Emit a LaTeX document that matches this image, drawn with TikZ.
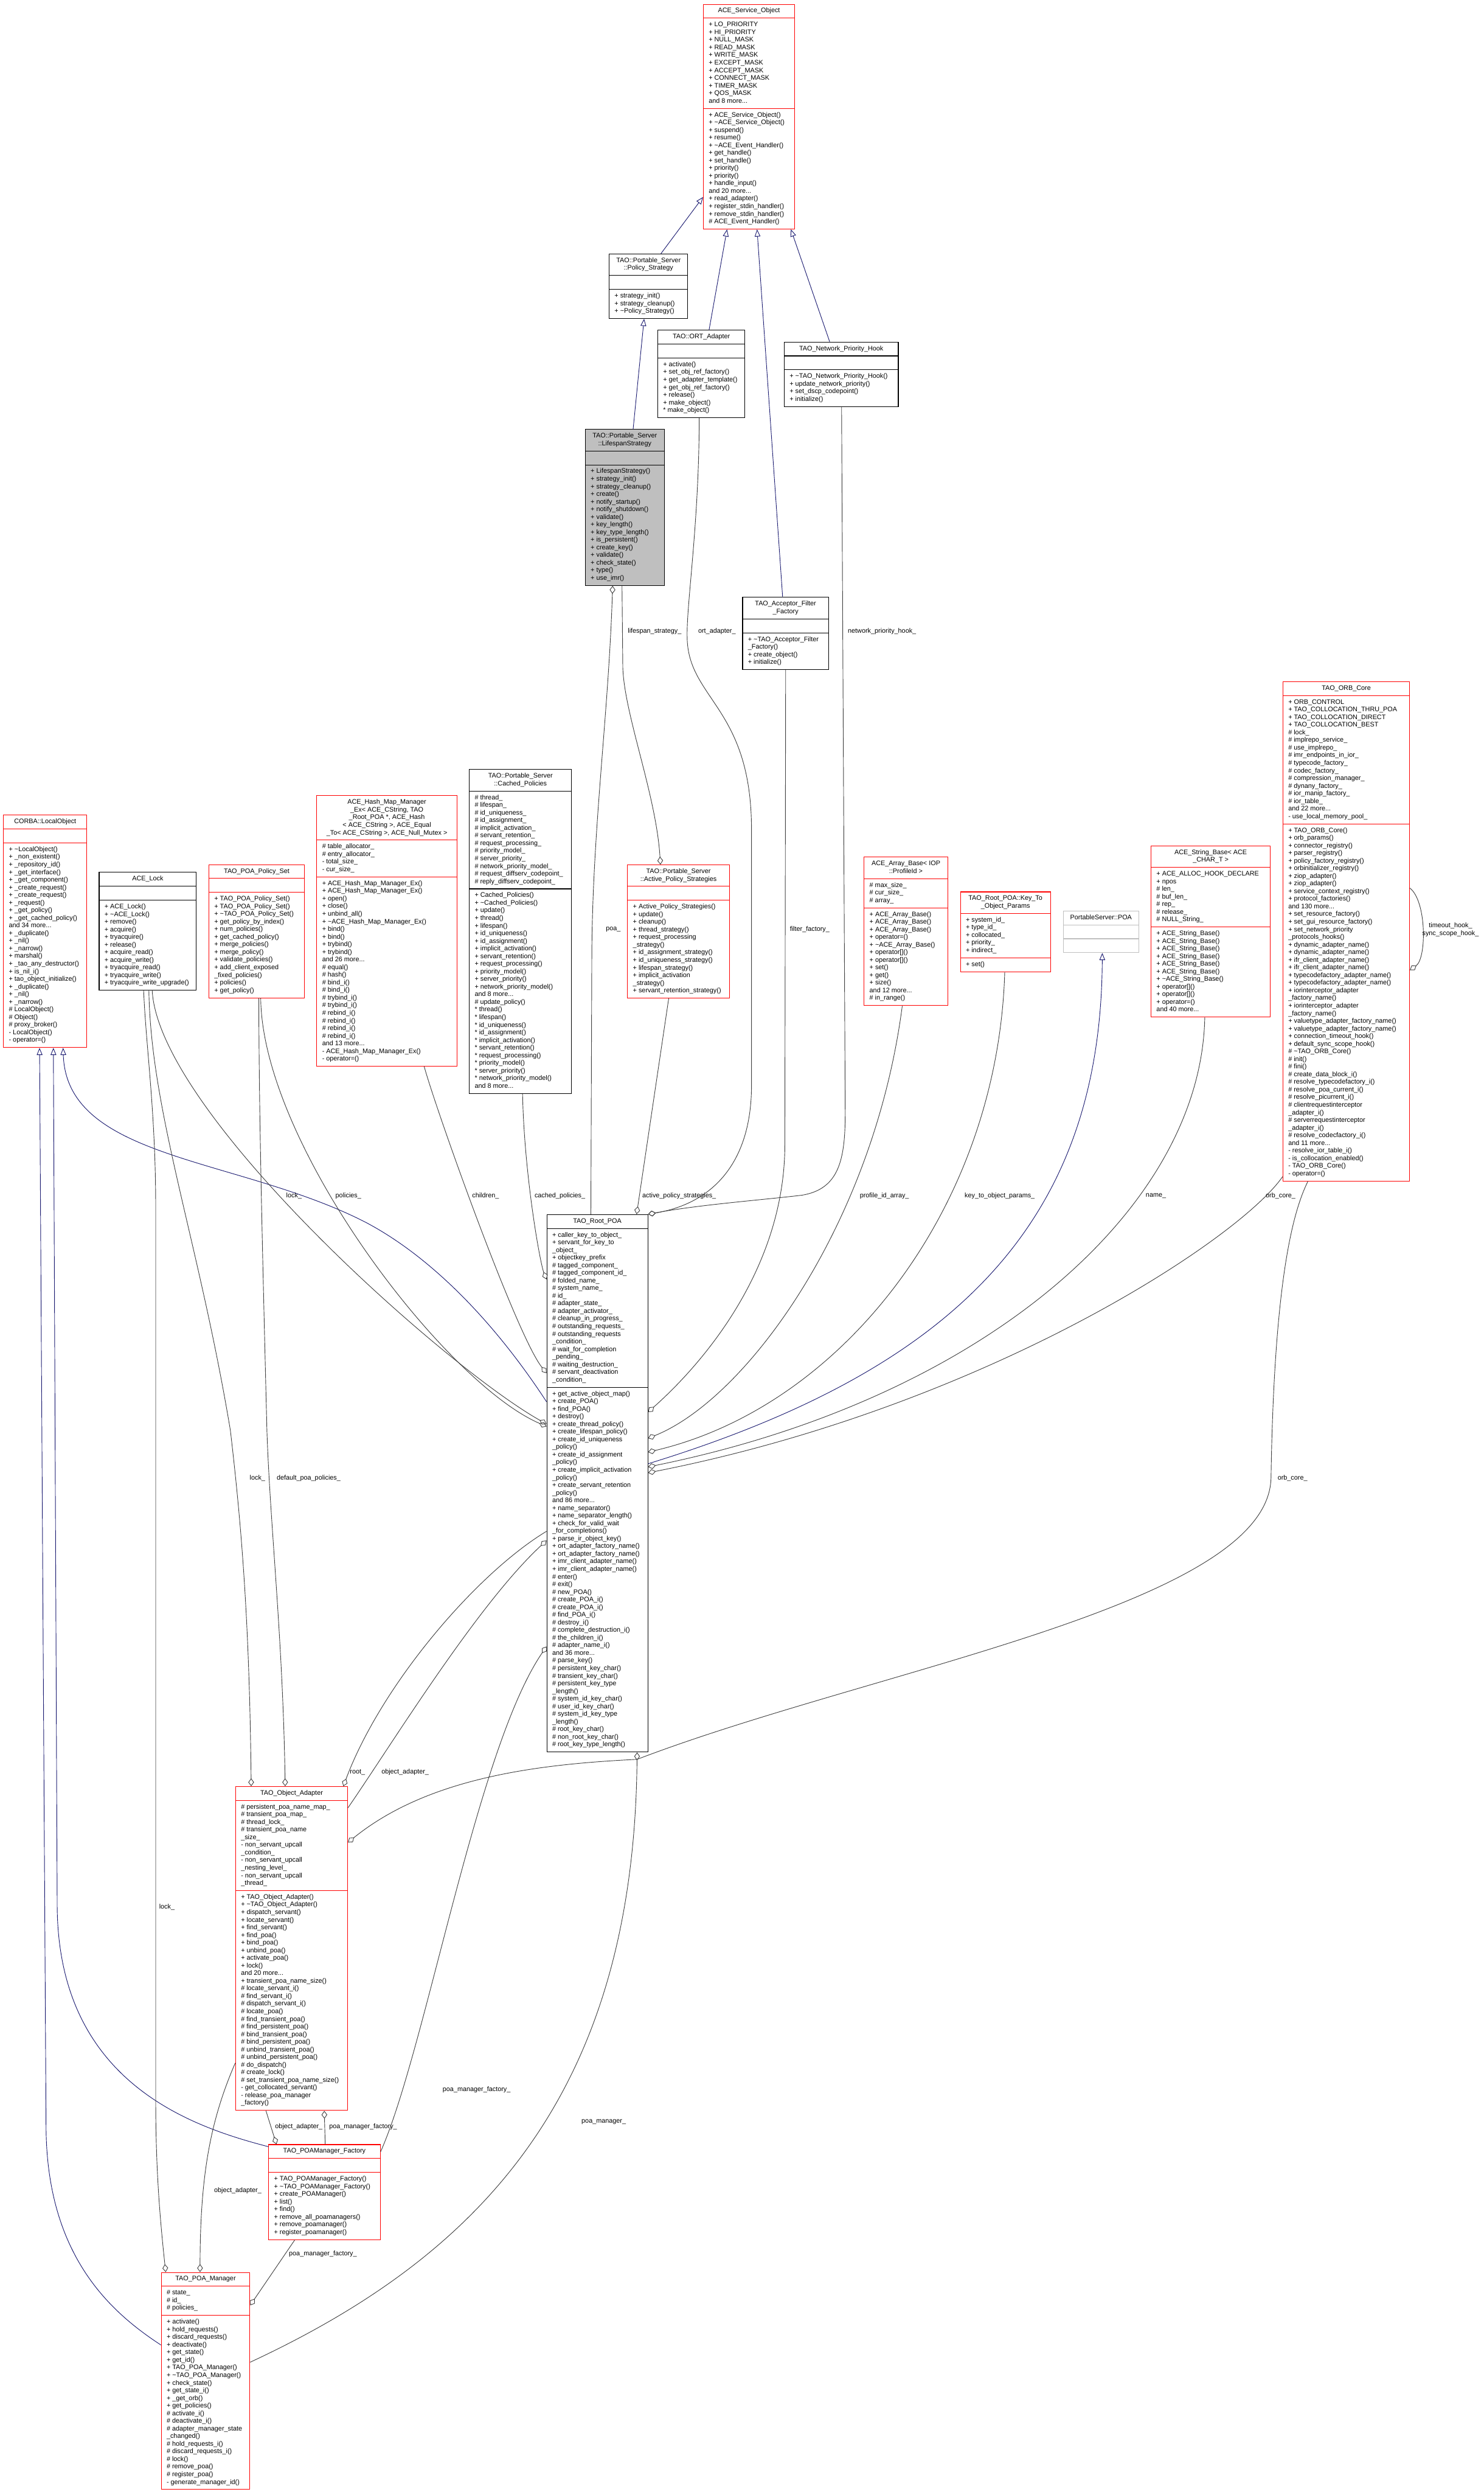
\documentclass[tikz,border=0pt]{standalone}
\usepackage{fontspec}
\setmainfont{Liberation Sans}
\usetikzlibrary{shapes.multipart,arrows.meta,calc}
\setlength\parindent{0pt}
\definecolor{egrey}{HTML}{404040}
\definecolor{iblue}{HTML}{191970}
\definecolor{gseven}{HTML}{BFBFBF}
\newcommand\nfont{\fontsize{4.15}{4.8}\selectfont}
\newcommand\tlde{\textasciitilde}
\newcommand\umlclass[8]{%
 \node[#2] (#1) at (#3,#4) {\makebox[\dimexpr#5pt-6.8pt\relax][c]{\begin{tabular}{@{}c@{}}#6\end{tabular}}\nodepart{two}\makebox[\dimexpr#5pt-6.8pt\relax][l]{\begin{tabular}{@{}l@{}}#7\end{tabular}}\nodepart{three}\makebox[\dimexpr#5pt-6.8pt\relax][l]{\begin{tabular}{@{}l@{}}#8\end{tabular}}};}
\tikzset{
  cls/.style={rectangle split, rectangle split parts=3, draw=black, line width=0.4pt, fill=white, inner xsep=3.4pt, inner ysep=1.77pt, anchor=north west, font=\nfont},
  redcls/.style={cls, draw=red},
  greycls/.style={cls, draw=gseven},
  inh/.style={draw=iblue, line width=0.35pt, arrows={-Triangle[open,length=4.5pt,width=3.6pt]}},
  mem/.style={draw=egrey, line width=0.35pt, arrows={Diamond[open,length=5pt,width=3.6pt]-}},
  lbl/.style={font=\nfont, inner sep=0pt, text=black},
}
\begin{document}
\begin{tikzpicture}[x=1pt,y=-1pt]
\fill[white] (0,0) rectangle (934,1568);
\useasboundingbox (0,0) rectangle (934,1568);

% ---------------- classes ----------------
\umlclass{aso}{redcls}{442.5}{2.5}{57.5}{ACE\_Service\_Object}
{+ LO\_PRIORITY\\+ HI\_PRIORITY\\+ NULL\_MASK\\+ READ\_MASK\\+ WRITE\_MASK\\+ EXCEPT\_MASK\\+ ACCEPT\_MASK\\+ CONNECT\_MASK\\+ TIMER\_MASK\\+ QOS\_MASK\\and 8 more...}
{+ ACE\_Service\_Object()\\+ \tlde ACE\_Service\_Object()\\+ suspend()\\+ resume()\\+ \tlde ACE\_Event\_Handler()\\+ get\_handle()\\+ set\_handle()\\+ priority()\\+ priority()\\+ handle\_input()\\and 20 more...\\+ read\_adapter()\\+ register\_stdin\_handler()\\+ remove\_stdin\_handler()\\\# ACE\_Event\_Handler()}

\umlclass{ps}{cls}{383.2}{159.6}{49.5}{TAO::Portable\_Server\\::Policy\_Strategy}{\mbox{}}
{+ strategy\_init()\\+ strategy\_cleanup()\\+ \tlde Policy\_Strategy()}

\umlclass{ort}{cls}{413.8}{207.6}{54.9}{TAO::ORT\_Adapter}{\mbox{}}
{+ activate()\\+ set\_obj\_ref\_factory()\\+ get\_adapter\_template()\\+ get\_obj\_ref\_factory()\\+ release()\\+ make\_object()\\{}* make\_object()}

\umlclass{nph}{cls}{493.4}{215}{71.8}{TAO\_Network\_Priority\_Hook}{\mbox{}}
{+ \tlde TAO\_Network\_Priority\_Hook()\\+ update\_network\_priority()\\+ set\_dscp\_codepoint()\\+ initialize()}

\umlclass{ls}{cls, fill=gseven}{368.2}{270}{49.7}{TAO::Portable\_Server\\::LifespanStrategy}{\mbox{}}
{+ LifespanStrategy()\\+ strategy\_init()\\+ strategy\_cleanup()\\+ create()\\+ notify\_startup()\\+ notify\_shutdown()\\+ validate()\\+ key\_length()\\+ key\_type\_length()\\+ is\_persistent()\\+ create\_key()\\+ validate()\\+ check\_state()\\+ type()\\+ use\_imr()}

\umlclass{aff}{cls}{467.2}{375.7}{54.1}{TAO\_Acceptor\_Filter\\\_Factory}{\mbox{}}
{+ \tlde TAO\_Acceptor\_Filter\\\_Factory()\\+ create\_object()\\+ initialize()}

\umlclass{cp}{cls}{295.2}{484}{64.4}{TAO::Portable\_Server\\::Cached\_Policies}
{\# thread\_\\\# lifespan\_\\\# id\_uniqueness\_\\\# id\_assignment\_\\\# implicit\_activation\_\\\# servant\_retention\_\\\# request\_processing\_\\\# priority\_model\_\\\# server\_priority\_\\\# network\_priority\_model\_\\\# request\_diffserv\_codepoint\_\\\# reply\_diffserv\_codepoint\_}
{+ Cached\_Policies()\\+ \tlde Cached\_Policies()\\+ update()\\+ thread()\\+ lifespan()\\+ id\_uniqueness()\\+ id\_assignment()\\+ implicit\_activation()\\+ servant\_retention()\\+ request\_processing()\\+ priority\_model()\\+ server\_priority()\\+ network\_priority\_model()\\and 8 more...\\\# update\_policy()\\{}* thread()\\{}* lifespan()\\{}* id\_uniqueness()\\{}* id\_assignment()\\{}* implicit\_activation()\\{}* servant\_retention()\\{}* request\_processing()\\{}* priority\_model()\\{}* server\_priority()\\{}* network\_priority\_model()\\and 8 more...}

\umlclass{hm}{redcls}{199.2}{500.5}{88.2}{ACE\_Hash\_Map\_Manager\\\_Ex< ACE\_CString, TAO\\\_Root\_POA *, ACE\_Hash\\< ACE\_CString >, ACE\_Equal\\\_To< ACE\_CString >, ACE\_Null\_Mutex >}
{\# table\_allocator\_\\\# entry\_allocator\_\\- total\_size\_\\- cur\_size\_}
{+ ACE\_Hash\_Map\_Manager\_Ex()\\+ ACE\_Hash\_Map\_Manager\_Ex()\\+ open()\\+ close()\\+ unbind\_all()\\+ \tlde ACE\_Hash\_Map\_Manager\_Ex()\\+ bind()\\+ bind()\\+ trybind()\\+ trybind()\\and 26 more...\\\# equal()\\\# hash()\\\# bind\_i()\\\# bind\_i()\\\# trybind\_i()\\\# trybind\_i()\\\# rebind\_i()\\\# rebind\_i()\\\# rebind\_i()\\\# rebind\_i()\\and 13 more...\\- ACE\_Hash\_Map\_Manager\_Ex()\\- operator=()}

\umlclass{aps}{redcls}{394.8}{544}{64.1}{TAO::Portable\_Server\\::Active\_Policy\_Strategies}{\mbox{}}
{+ Active\_Policy\_Strategies()\\+ update()\\+ cleanup()\\+ thread\_strategy()\\+ request\_processing\\\_strategy()\\+ id\_assignment\_strategy()\\+ id\_uniqueness\_strategy()\\+ lifespan\_strategy()\\+ implicit\_activation\\\_strategy()\\+ servant\_retention\_strategy()}

\umlclass{arr}{redcls}{543.7}{539.1}{52.6}{ACE\_Array\_Base< IOP\\::ProfileId >}
{\# max\_size\_\\\# cur\_size\_\\\# array\_}
{+ ACE\_Array\_Base()\\+ ACE\_Array\_Base()\\+ ACE\_Array\_Base()\\+ operator=()\\+ \tlde ACE\_Array\_Base()\\+ operator[]()\\+ operator[]()\\+ set()\\+ get()\\+ size()\\and 12 more...\\\# in\_range()}

\umlclass{kto}{redcls}{604.3}{561}{56.7}{TAO\_Root\_POA::Key\_To\\\_Object\_Params}
{+ system\_id\_\\+ type\_id\_\\+ collocated\_\\+ priority\_\\+ indirect\_}
{+ set()}

\umlclass{poa}{greycls}{669.1}{573}{47.4}{PortableServer::POA}{\mbox{}}{\mbox{}}

\umlclass{sb}{redcls}{724.3}{532}{75.1}{ACE\_String\_Base< ACE\\\_CHAR\_T >}
{+ ACE\_ALLOC\_HOOK\_DECLARE\\+ npos\\\# len\_\\\# buf\_len\_\\\# rep\_\\\# release\_\\\# NULL\_String\_}
{+ ACE\_String\_Base()\\+ ACE\_String\_Base()\\+ ACE\_String\_Base()\\+ ACE\_String\_Base()\\+ ACE\_String\_Base()\\+ ACE\_String\_Base()\\+ \tlde ACE\_String\_Base()\\+ operator[]()\\+ operator[]()\\+ operator=()\\and 40 more...}

\umlclass{orb}{redcls}{807.3}{428.7}{79.7}{TAO\_ORB\_Core}
{+ ORB\_CONTROL\\+ TAO\_COLLOCATION\_THRU\_POA\\+ TAO\_COLLOCATION\_DIRECT\\+ TAO\_COLLOCATION\_BEST\\\# lock\_\\\# implrepo\_service\_\\\# use\_implrepo\_\\\# imr\_endpoints\_in\_ior\_\\\# typecode\_factory\_\\\# codec\_factory\_\\\# compression\_manager\_\\\# dynany\_factory\_\\\# ior\_manip\_factory\_\\\# ior\_table\_\\and 22 more...\\- use\_local\_memory\_pool\_}
{+ TAO\_ORB\_Core()\\+ orb\_params()\\+ connector\_registry()\\+ parser\_registry()\\+ policy\_factory\_registry()\\+ orbinitializer\_registry()\\+ ziop\_adapter()\\+ ziop\_adapter()\\+ service\_context\_registry()\\+ protocol\_factories()\\and 130 more...\\+ set\_resource\_factory()\\+ set\_gui\_resource\_factory()\\+ set\_network\_priority\\\_protocols\_hooks()\\+ dynamic\_adapter\_name()\\+ dynamic\_adapter\_name()\\+ ifr\_client\_adapter\_name()\\+ ifr\_client\_adapter\_name()\\+ typecodefactory\_adapter\_name()\\+ typecodefactory\_adapter\_name()\\+ iorinterceptor\_adapter\\\_factory\_name()\\+ iorinterceptor\_adapter\\\_factory\_name()\\+ valuetype\_adapter\_factory\_name()\\+ valuetype\_adapter\_factory\_name()\\+ connection\_timeout\_hook()\\+ default\_sync\_scope\_hook()\\\# \tlde TAO\_ORB\_Core()\\\# init()\\\# fini()\\\# create\_data\_block\_i()\\\# resolve\_typecodefactory\_i()\\\# resolve\_poa\_current\_i()\\\# resolve\_picurrent\_i()\\\# clientrequestinterceptor\\\_adapter\_i()\\\# serverrequestinterceptor\\\_adapter\_i()\\\# resolve\_codecfactory\_i()\\and 11 more...\\- resolve\_ior\_table\_i()\\- is\_collocation\_enabled()\\- TAO\_ORB\_Core()\\- operator=()}

\umlclass{lo}{redcls}{2}{512.7}{52.5}{CORBA::LocalObject}{\mbox{}}
{+ \tlde LocalObject()\\+ \_non\_existent()\\+ \_repository\_id()\\+ \_get\_interface()\\+ \_get\_component()\\+ \_create\_request()\\+ \_create\_request()\\+ \_request()\\+ \_get\_policy()\\+ \_get\_cached\_policy()\\and 34 more...\\+ \_duplicate()\\+ \_nil()\\+ \_narrow()\\+ marshal()\\+ \_tao\_any\_destructor()\\+ is\_nil\_i()\\+ tao\_object\_initialize()\\+ \_duplicate()\\+ \_nil()\\+ \_narrow()\\\# LocalObject()\\\# Object()\\\# proxy\_broker()\\- LocalObject()\\- operator=()}

\umlclass{lock}{cls}{62.2}{548.7}{61.2}{ACE\_Lock}{\mbox{}}
{+ ACE\_Lock()\\+ \tlde ACE\_Lock()\\+ remove()\\+ acquire()\\+ tryacquire()\\+ release()\\+ acquire\_read()\\+ acquire\_write()\\+ tryacquire\_read()\\+ tryacquire\_write()\\+ tryacquire\_write\_upgrade()}

\umlclass{pps}{redcls}{131.3}{543.8}{60.1}{TAO\_POA\_Policy\_Set}{\mbox{}}
{+ TAO\_POA\_Policy\_Set()\\+ TAO\_POA\_Policy\_Set()\\+ \tlde TAO\_POA\_Policy\_Set()\\+ get\_policy\_by\_index()\\+ num\_policies()\\+ get\_cached\_policy()\\+ merge\_policies()\\+ merge\_policy()\\+ validate\_policies()\\+ add\_client\_exposed\\\_fixed\_policies()\\+ policies()\\+ get\_policy()}

\umlclass{rp}{cls}{344}{764}{63.5}{TAO\_Root\_POA}
{+ caller\_key\_to\_object\_\\+ servant\_for\_key\_to\\\_object\_\\+ objectkey\_prefix\\\# tagged\_component\_\\\# tagged\_component\_id\_\\\# folded\_name\_\\\# system\_name\_\\\# id\_\\\# adapter\_state\_\\\# adapter\_activator\_\\\# cleanup\_in\_progress\_\\\# outstanding\_requests\_\\\# outstanding\_requests\\\_condition\_\\\# wait\_for\_completion\\\_pending\_\\\# waiting\_destruction\_\\\# servant\_deactivation\\\_condition\_}
{+ get\_active\_object\_map()\\+ create\_POA()\\+ find\_POA()\\+ destroy()\\+ create\_thread\_policy()\\+ create\_lifespan\_policy()\\+ create\_id\_uniqueness\\\_policy()\\+ create\_id\_assignment\\\_policy()\\+ create\_implicit\_activation\\\_policy()\\+ create\_servant\_retention\\\_policy()\\and 86 more...\\+ name\_separator()\\+ name\_separator\_length()\\+ check\_for\_valid\_wait\\\_for\_completions()\\+ parse\_ir\_object\_key()\\+ ort\_adapter\_factory\_name()\\+ ort\_adapter\_factory\_name()\\+ imr\_client\_adapter\_name()\\+ imr\_client\_adapter\_name()\\\# enter()\\\# exit()\\\# new\_POA()\\\# create\_POA\_i()\\\# create\_POA\_i()\\\# find\_POA\_i()\\\# destroy\_i()\\\# complete\_destruction\_i()\\\# the\_children\_i()\\\# adapter\_name\_i()\\and 36 more...\\\# parse\_key()\\\# persistent\_key\_char()\\\# transient\_key\_char()\\\# persistent\_key\_type\\\_length()\\\# system\_id\_key\_char()\\\# user\_id\_key\_char()\\\# system\_id\_key\_type\\\_length()\\\# root\_key\_char()\\\# non\_root\_key\_char()\\\# root\_key\_type\_length()}

\umlclass{oa}{redcls}{148.1}{1123.9}{70.5}{TAO\_Object\_Adapter}
{\# persistent\_poa\_name\_map\_\\\# transient\_poa\_map\_\\\# thread\_lock\_\\\# transient\_poa\_name\\\_size\_\\- non\_servant\_upcall\\\_condition\_\\- non\_servant\_upcall\\\_nesting\_level\_\\- non\_servant\_upcall\\\_thread\_}
{+ TAO\_Object\_Adapter()\\+ \tlde TAO\_Object\_Adapter()\\+ dispatch\_servant()\\+ locate\_servant()\\+ find\_servant()\\+ find\_poa()\\+ bind\_poa()\\+ unbind\_poa()\\+ activate\_poa()\\+ lock()\\and 20 more...\\+ transient\_poa\_name\_size()\\\# locate\_servant\_i()\\\# find\_servant\_i()\\\# dispatch\_servant\_i()\\\# locate\_poa()\\\# find\_transient\_poa()\\\# find\_persistent\_poa()\\\# bind\_transient\_poa()\\\# bind\_persistent\_poa()\\\# unbind\_transient\_poa()\\\# unbind\_persistent\_poa()\\\# do\_dispatch()\\\# create\_lock()\\\# set\_transient\_poa\_name\_size()\\- get\_collocated\_servant()\\- release\_poa\_manager\\\_factory()}

\umlclass{pmf}{redcls}{168.9}{1349.2}{70.2}{TAO\_POAManager\_Factory}{\mbox{}}
{+ TAO\_POAManager\_Factory()\\+ \tlde TAO\_POAManager\_Factory()\\+ create\_POAManager()\\+ list()\\+ find()\\+ remove\_all\_poamanagers()\\+ remove\_poamanager()\\+ register\_poamanager()}

\umlclass{pm}{redcls}{101.3}{1429.6}{55.8}{TAO\_POA\_Manager}
{\# state\_\\\# id\_\\\# policies\_}
{+ activate()\\+ hold\_requests()\\+ discard\_requests()\\+ deactivate()\\+ get\_state()\\+ get\_id()\\+ TAO\_POA\_Manager()\\+ \tlde TAO\_POA\_Manager()\\+ check\_state()\\+ get\_state\_i()\\+ \_get\_orb()\\+ get\_policies()\\\# activate\_i()\\\# deactivate\_i()\\\# adapter\_manager\_state\\\_changed()\\\# hold\_requests\_i()\\\# discard\_requests\_i()\\\# lock()\\\# remove\_poa()\\\# register\_poa()\\- generate\_manager\_id()}

% ---------------- inheritance ----------------
\draw[inh] ($(ps.north west)+(32.8,0)$) -- ($(aso.north west)+(0,121.5)$);
\draw[inh] ($(ort.north west)+(32.5,0)$) -- ($(aso.south west)+(15.1,0)$);
\draw[inh] ($(aff.north west)+(25.4,0)$) -- ($(aso.south west)+(34,0)$);
\draw[inh] ($(nph.north west)+(28.8,0)$) -- ($(aso.south west)+(55.3,0)$);
\draw[inh] ($(ls.north west)+(30.3,0)$) -- ($(ps.south west)+(22.2,0)$);
\draw[inh] ($(rp.north east)+(0,157)$) .. controls (600,862) and (693,770) .. ($(poa.south west)+(24.7,0)$);
\draw[inh] ($(rp.north west)+(0,118)$) .. controls (310,830) and (270,790) .. (230,769) .. controls (150,728) and (42,730) .. ($(lo.south west)+(37.7,0)$);
\draw[inh] ($(pmf.north west)+(0,1.5)$) .. controls (120,1338) and (37,1310) .. (36,1200) -- ($(lo.south west)+(31.6,0)$);
\draw[inh] ($(pm.north west)+(0,45.9)$) .. controls (70,1455) and (30,1420) .. (29,1340) -- ($(lo.south west)+(22.9,0)$);

% ---------------- members ----------------
\draw[mem] ($(aps.north west)+(20.9,0)$) .. controls (413,500) and (393,450) .. (392,420) -- ($(ls.south west)+(23.3,0)$);
\draw[mem] ($(ls.south west)+(17.4,0)$) .. controls (383,450) and (373,520) .. (372.5,600) -- ($(rp.north west)+(27.9,0)$);
\draw[mem] ($(rp.north west)+(0,41)$) .. controls (340,795) and (330,740) .. ($(cp.south west)+(33.7,0)$);
\draw[mem] ($(rp.north west)+(56.7,0)$) -- ($(aps.south west)+(26.1,0)$);
\draw[mem] ($(rp.north west)+(0,100)$) .. controls (325,840) and (275,700) .. ($(hm.south west)+(67.8,0)$);
\draw[mem] ($(rp.north west)+(0,132)$) .. controls (280,860) and (100,700) .. ($(lock.south west)+(33.6,0)$);
\draw[mem] ($(rp.north west)+(0,133.5)$) .. controls (280,870) and (165,720) .. ($(pps.south west)+(32.8,0)$);
\draw[mem] ($(oa.north west)+(10,0)$) .. controls (157,1020) and (152,960) .. (145,900) .. controls (125,780) and (95,700) .. ($(lock.south west)+(31.5,0)$);
\draw[mem] ($(oa.north west)+(31.4,0)$) .. controls (178,1030) and (170,960) .. (168,900) .. controls (165,780) and (163,700) .. ($(pps.south west)+(31.6,0)$);
\draw[mem] ($(pm.north west)+(3,0)$) .. controls (100,1390) and (98,1360) .. (98,1320) -- (98,760) .. controls (98,700) and (92,660) .. ($(lock.south west)+(28.2,0)$);
\draw[mem] ($(oa.north west)+(68,0)$) .. controls (240,1060) and (300,990) .. ($(rp.north west)+(0,199.5)$);
\draw[mem] ($(rp.north west)+(0,205.3)$) .. controls (300,1010) and (245,1100) .. ($(oa.north east)+(0,13.6)$);
\draw[mem] (rp.north east) .. controls (450,757) and (473,730) .. (473,683) -- (473,522) .. controls (473,445) and (433,440) .. (432.5,401) .. controls (432,380) and (440,330) .. ($(ort.south west)+(26.3,0)$);
\draw[mem] ($(rp.north east)+(0,124.5)$) .. controls (440,860) and (494,800) .. (494,720) -- ($(aff.south west)+(27.3,0)$);
\draw[mem] (rp.north east) .. controls (440,758) and (480,755) .. (505,752) .. controls (528,748) and (532,730) .. (532,700) -- ($(nph.south west)+(36.3,0)$);
\draw[mem] ($(rp.north east)+(0,141)$) .. controls (470,880) and (550,770) .. ($(arr.south west)+(24.2,0)$);
\draw[mem] ($(rp.north east)+(0,149.7)$) .. controls (530,885) and (628,760) .. ($(kto.south west)+(28.1,0)$);
\draw[mem] ($(rp.north east)+(0,159)$) .. controls (620,880) and (756,760) .. ($(sb.south west)+(34,0)$);
\draw[mem] ($(rp.north east)+(0,162.7)$) .. controls (620,885) and (780,780) .. ($(orb.south west)+(0,-3)$);
\draw[mem] ($(oa.north east)+(0,35.4)$) .. controls (270,1118) and (340,1110) .. (401,1107) .. controls (550,1050) and (798,1010) .. (800,930) .. controls (802,800) and (815,760) .. ($(orb.south west)+(15.9,0)$);
\draw[mem] ($(rp.south west)+(57,0)$) .. controls (399,1320) and (300,1420) .. ($(pm.north east)+(0,56.7)$);
\draw[mem] ($(rp.north west)+(0,272)$) .. controls (300,1100) and (268,1290) .. ($(pmf.north east)+(0,4.8)$);
\draw[mem] ($(pmf.north west)+(5.1,0)$) -- ($(oa.south west)+(19.3,0)$);
\draw[mem] ($(oa.south west)+(56,0)$) -- ($(pmf.north west)+(35.8,0)$);
\draw[mem] ($(pm.north west)+(24.6,0)$) .. controls (126,1370) and (132,1335) .. ($(oa.north west)+(0,174.1)$);
\draw[mem] ($(pm.north east)+(0,20.9)$) -- ($(pmf.south west)+(16.6,0)$);
\draw[mem] ($(orb.north east)+(0,181.7)$) .. controls (898,603) and (898,567) .. ($(orb.north east)+(0,130.1)$);

% ---------------- labels ----------------
\node[lbl, anchor=west] (t1) at (395,397.4) {lifespan\_strategy\_};
\node[lbl, anchor=west] (t2) at (439.3,397.4) {ort\_adapter\_};
\node[lbl, anchor=west] (t3) at (533.5,397.4) {network\_priority\_hook\_};
\node[lbl, anchor=west] (t4) at (497,585) {filter\_factory\_};
\node[lbl, anchor=west] (t9) at (381.2,585) {poa\_};
\node[lbl, anchor=west] (t5) at (180,752.6) {lock\_};
\node[lbl, anchor=west] (t6) at (211,752.6) {policies\_};
\node[lbl, anchor=west] (t7) at (297,752.6) {children\_};
\node[lbl, anchor=west] (t8) at (336.3,752.6) {cached\_policies\_};
\node[lbl, anchor=west] (t10) at (404.1,752.6) {active\_policy\_strategies\_};
\node[lbl, anchor=west] (t11) at (541,752.6) {profile\_id\_array\_};
\node[lbl, anchor=west] (t12) at (607,752.6) {key\_to\_object\_params\_};
\node[lbl, anchor=west] (t13) at (721,752.6) {name\_};
\node[lbl, anchor=west] (t14) at (796.5,752.6) {orb\_core\_};
\node[lbl, anchor=west] (t15) at (157,930) {lock\_};
\node[lbl, anchor=west] (t16) at (174,930) {default\_poa\_policies\_};
\node[lbl, anchor=west] (t17) at (804,930) {orb\_core\_};
\node[lbl] (t18) at (225,1115) {root\_};
\node[lbl] (t19) at (255,1115) {object\_adapter\_};
\node[lbl, anchor=west] (t20) at (100,1200) {lock\_};
\node[lbl] (t21) at (300,1315) {poa\_manager\_factory\_};
\node[lbl] (t22) at (380,1335) {poa\_manager\_};
\node[lbl, anchor=west] (t23) at (173,1338) {object\_adapter\_};
\node[lbl, anchor=west] (t24) at (207,1338) {poa\_manager\_factory\_};
\node[lbl, anchor=west] (t25) at (134.6,1378.3) {object\_adapter\_};
\node[lbl, anchor=west] (t26) at (181.7,1418.3) {poa\_manager\_factory\_};
\node[lbl, align=center] (t27) at (913,585) {timeout\_hook\_\\sync\_scope\_hook\_};
\end{tikzpicture}
\end{document}
